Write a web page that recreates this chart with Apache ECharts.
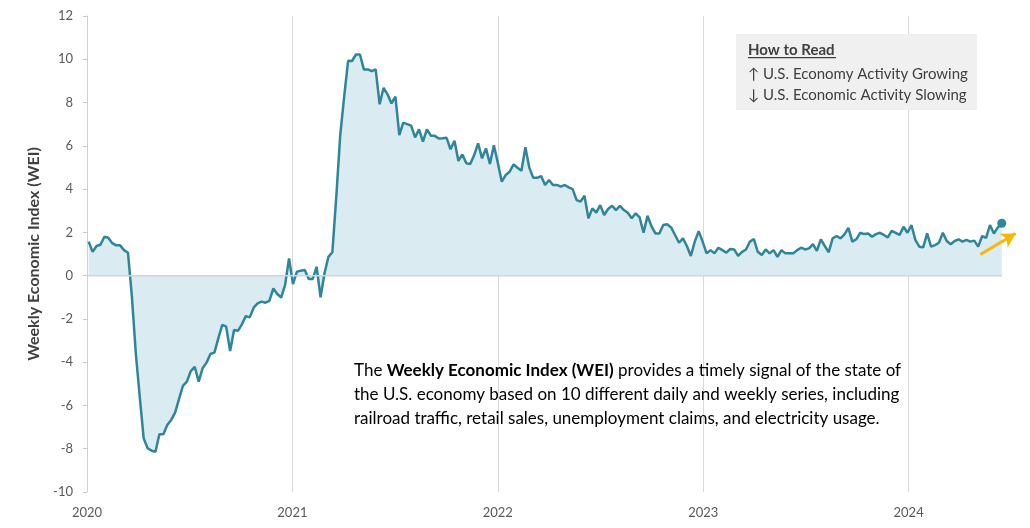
<!DOCTYPE html>
<html>
<head>
<meta charset="utf-8">
<script src="https://cdn.jsdelivr.net/npm/echarts@6/dist/echarts.min.js"></script>
<style>
html,body{margin:0;padding:0;background:#fff;}
#chart{width:1030px;height:528px;}
</style>
</head>
<body>
<div id="chart"></div>
<script>
// ---- data ----
const startDate = '2020-01-04';   // first weekly observation (week ending Saturday)
const wei = [
 1.57,1.10,1.37,1.43,1.80,1.75,1.50,1.40,1.40,1.18,1.06,-0.97,-3.60,-5.60,-7.52,-7.98,-8.09,-8.14,-7.33,-7.33,
 -6.90,-6.67,-6.33,-5.70,-5.09,-4.90,-4.41,-4.21,-4.90,-4.28,-4.02,-3.62,-3.56,-2.90,-2.28,-2.36,-3.48,-2.51,-2.55,-2.25,
 -1.87,-1.93,-1.48,-1.28,-1.20,-1.25,-1.17,-0.59,-0.85,-1.02,-0.43,0.80,-0.39,0.18,0.23,0.26,-0.16,-0.16,0.41,-1.00,
 0.10,0.87,1.08,3.65,6.50,8.27,9.93,9.92,10.22,10.22,9.53,9.53,9.45,9.53,7.92,8.68,8.38,7.96,8.27,6.50,
 7.07,7.00,6.93,6.39,6.76,6.19,6.76,6.47,6.46,6.34,6.35,6.37,5.84,6.23,5.30,5.60,5.19,5.16,5.57,6.11,
 5.42,5.88,5.16,6.03,5.22,4.34,4.65,4.80,5.14,4.99,4.85,5.93,4.99,4.52,4.52,4.60,4.19,4.42,4.19,4.19,
 4.11,4.19,4.08,4.00,3.49,3.42,3.69,2.65,3.11,2.91,3.26,2.80,3.08,3.23,3.03,3.22,3.03,2.91,2.65,2.88,
 2.69,1.98,2.77,2.29,1.95,1.95,2.34,2.37,2.23,1.88,1.52,1.72,1.37,0.91,1.57,2.06,1.57,1.03,1.18,1.03,
 1.29,1.18,1.06,1.23,1.21,0.91,1.10,1.21,1.57,1.69,1.10,0.95,1.21,1.03,1.18,0.87,1.18,1.03,1.03,1.03,
 1.18,1.29,1.21,1.26,1.46,1.14,1.68,1.37,1.08,1.72,1.83,1.72,1.91,2.21,1.57,1.68,1.98,1.92,1.95,1.80,
 1.92,1.98,1.88,1.77,2.07,1.98,1.88,2.26,1.98,2.34,1.65,1.34,1.31,1.95,1.34,1.41,1.52,1.98,1.60,1.45,
 1.60,1.68,1.57,1.65,1.57,1.62,1.34,1.83,1.75,2.34,1.95,2.23,2.42
];
const yearTicks = [2020, 2021, 2022, 2023, 2024];
const xMax = 2024.591;            // right edge of the plotting area
const yTicks = [-10, -8, -6, -4, -2, 0, 2, 4, 6, 8, 10, 12];
const arrowX = [2024.349, 2024.521];
const arrowY = [0.98, 1.95];
const yAxisTitle = 'Weekly Economic Index (WEI)';
const howToTitle = 'How to Read';
const howToLines = ['\u2191 U.S. Economy Activity Growing', '\u2193 U.S. Economic Activity Slowing'];

// ---- helpers ----
function decimalYear(d) {
  const y = d.getUTCFullYear();
  const s = Date.UTC(y, 0, 1), e = Date.UTC(y + 1, 0, 1);
  return y + (d.getTime() - s) / (e - s);
}
const t0 = new Date(startDate + 'T00:00:00Z').getTime();
const points = wei.map((v, i) => [decimalYear(new Date(t0 + i * 7 * 86400000)), v]);
const last = points[points.length - 1];

const FONT = 'Lato, "Open Sans", sans-serif';
const chart = echarts.init(document.getElementById('chart'), null, {renderer: 'canvas'});
chart.setOption({
  animation: false,
  backgroundColor: '#ffffff',
  grid: {left: 87, right: 0, top: 16, bottom: 36, containLabel: false},
  xAxis: {
    type: 'value',
    min: yearTicks[0],
    max: xMax,
    interval: 1,
    axisLine: {show: false},
    axisTick: {show: false},
    splitLine: {show: true, lineStyle: {color: '#d9d9d9', width: 1}},
    axisLabel: {
      fontFamily: FONT, fontSize: 13, color: '#595959', margin: 14,
      formatter: v => yearTicks.includes(v) ? String(v) : '',
      showMaxLabel: false
    }
  },
  yAxis: {
    type: 'value',
    min: yTicks[0],
    max: yTicks[yTicks.length - 1],
    interval: 2,
    name: yAxisTitle,
    nameLocation: 'middle',
    nameGap: 45,
    nameTextStyle: {fontFamily: FONT, fontSize: 16, fontWeight: 'bold', color: '#404040'},
    axisLine: {show: true, lineStyle: {color: '#d0d0d0', width: 1}},
    axisTick: {show: true, length: 4, lineStyle: {color: '#c8c8c8'}},
    splitLine: {show: false},
    axisLabel: {fontFamily: FONT, fontSize: 13, color: '#595959', margin: 14}
  },
  series: [
    {
      // zero baseline, spanning the data range only
      type: 'line',
      data: [[yearTicks[0], 0], [last[0], 0]],
      symbol: 'none',
      silent: true,
      lineStyle: {color: '#d4d4d4', width: 1.5},
      z: 4
    },
    {
      type: 'line',
      data: points,
      symbol: 'none',
      lineStyle: {color: '#2f8599', width: 2.5},
      areaStyle: {color: '#daebf1', origin: 0, opacity: 1},
      z: 3,
      markLine: {
        silent: true,
        symbol: ['none', 'arrow'],
        symbolSize: [12, 14],
        label: {show: false},
        lineStyle: {color: '#f6b800', width: 3, type: 'solid'},
        data: [[{coord: [arrowX[0], arrowY[0]]}, {coord: [arrowX[1], arrowY[1]]}]]
      }
    },
    {
      type: 'scatter',
      data: [last],
      symbol: 'circle',
      symbolSize: 9,
      itemStyle: {color: '#2f8599', opacity: 1},
      z: 5
    }
  ],
  graphic: [
    {
      type: 'rect', left: 736, top: 34, z: 10,
      shape: {width: 241, height: 76},
      style: {fill: '#f0f0f0'}
    },
    {
      type: 'text', left: 748, top: 43, z: 11,
      style: {text: howToTitle, font: 'bold 15px ' + FONT, fill: '#404040'}
    },
    {
      type: 'rect', left: 748, top: 57, z: 11,
      shape: {width: 88, height: 1.2},
      style: {fill: '#404040'}
    },
    {
      type: 'text', left: 748, top: 67, z: 11,
      style: {text: howToLines[0], font: '15px ' + FONT, fill: '#404040'}
    },
    {
      type: 'text', left: 748, top: 88, z: 11,
      style: {text: howToLines[1], font: '15px ' + FONT, fill: '#404040'}
    },
    {
      type: 'text', left: 354, top: 362, z: 11,
      style: {
        text: '{n|The }{b|Weekly Economic Index (WEI)}{n| provides a timely signal of the state of}\n' +
              '{n|the U.S. economy based on 10 different daily and weekly series, including}\n' +
              '{n|railroad traffic, retail sales, unemployment claims, and electricity usage.}',
        rich: {
          n: {fontFamily: FONT, fontSize: 17, color: '#262626', lineHeight: 24},
          b: {fontFamily: FONT, fontSize: 17, fontWeight: 'bold', color: '#262626', lineHeight: 24}
        }
      }
    }
  ]
});
</script>
</body>
</html>
